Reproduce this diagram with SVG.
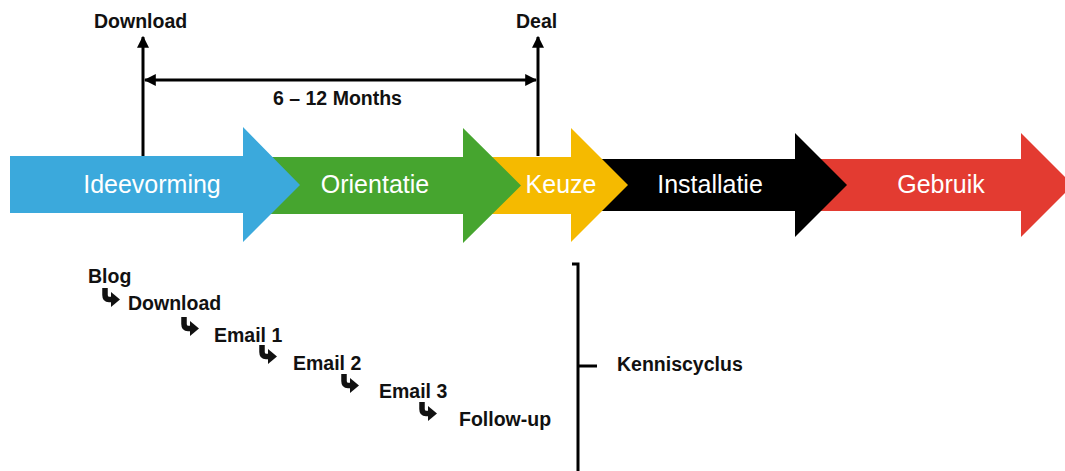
<svg xmlns="http://www.w3.org/2000/svg" width="1065" height="471" viewBox="0 0 1065 471">
  <style>
    .phase { font-family: "Liberation Sans", Arial, sans-serif; font-size: 25px; fill: #ffffff; text-anchor: middle; }
    .lbl { font-family: "Liberation Sans", Arial, sans-serif; font-size: 19.5px; font-weight: bold; fill: #111111; }
    .line { stroke: #000000; stroke-width: 3; fill: none; }
  </style>
  <defs>
    <marker id="head" viewBox="0 0 10 10" refX="9" refY="5" markerWidth="4" markerHeight="4" orient="auto-start-reverse" markerUnits="strokeWidth">
      <path d="M0,0 L10,5 L0,10 Z" fill="#000000"/>
    </marker>
    <!-- bent step arrow used in the follow-up sequence -->
    <g id="hook">
      <path d="M4,0 V7 Q4,11.5 8,11.5 H11" stroke="#111111" stroke-width="5.5" fill="none"/>
      <path d="M10,4 L19,11.5 L10,19 Z" fill="#111111"/>
    </g>
  </defs>

  <rect width="1065" height="471" fill="#ffffff"/>

  <!-- phase arrows, drawn back to front -->
  <g id="phase-gebruik">
    <path d="M820,159 H1021 V133 L1073,185 L1021,237 V211 H820 Z" fill="#E33B31"/>
    <text class="phase" x="941" y="193">Gebruik</text>
  </g>
  <g id="phase-installatie">
    <path d="M600,159 H795 V133 L847,185 L795,237 V211 H600 Z" fill="#000000"/>
    <text class="phase" x="710" y="193">Installatie</text>
  </g>
  <g id="phase-keuze">
    <path d="M490,157 H571 V128 L628,185 L571,242 V214 H490 Z" fill="#F5BA00"/>
    <text class="phase" x="561" y="193">Keuze</text>
  </g>
  <g id="phase-orientatie">
    <path d="M270,157 H463 V128 L521,185.5 L463,243 V214 H270 Z" fill="#46A52F"/>
    <text class="phase" x="375" y="193">Orientatie</text>
  </g>
  <g id="phase-ideevorming">
    <path d="M10,156 H243 V127 L300,185 L243,242 V213 H10 Z" fill="#3BA9DC"/>
    <text class="phase" x="152" y="193">Ideevorming</text>
  </g>

  <!-- timeline markers -->
  <g id="connectors">
    <line class="line" x1="143" y1="156" x2="143" y2="37" marker-end="url(#head)"/>
    <line class="line" x1="538" y1="156" x2="538" y2="37" marker-end="url(#head)"/>
    <line class="line" x1="145" y1="80" x2="536" y2="80" marker-start="url(#head)" marker-end="url(#head)"/>
    <!-- bracket around the follow-up sequence -->
    <path class="line" d="M572,264 H578 V471"/>
    <line class="line" x1="578" y1="366" x2="597" y2="366"/>
  </g>

  <g id="marker-download">
    <text class="lbl" x="94" y="28">Download</text>
  </g>
  <g id="marker-deal">
    <text class="lbl" x="516" y="28">Deal</text>
  </g>
  <g id="duration">
    <text class="lbl" x="273" y="105">6 – 12 Months</text>
  </g>

  <!-- follow-up sequence -->
  <g id="step-blog"><text class="lbl" x="88" y="283">Blog</text></g>
  <g id="step-download">
    <use href="#hook" x="101" y="288"/>
    <text class="lbl" x="128" y="310">Download</text>
  </g>
  <g id="step-email1">
    <use href="#hook" x="180" y="317"/>
    <text class="lbl" x="214" y="342">Email 1</text>
  </g>
  <g id="step-email2">
    <use href="#hook" x="258" y="345"/>
    <text class="lbl" x="293" y="370">Email 2</text>
  </g>
  <g id="step-email3">
    <use href="#hook" x="340" y="374"/>
    <text class="lbl" x="379" y="398">Email 3</text>
  </g>
  <g id="step-followup">
    <use href="#hook" x="418" y="402"/>
    <text class="lbl" x="459" y="426">Follow-up</text>
  </g>

  <g id="kenniscyclus">
    <text class="lbl" x="617" y="371">Kenniscyclus</text>
  </g>
</svg>
